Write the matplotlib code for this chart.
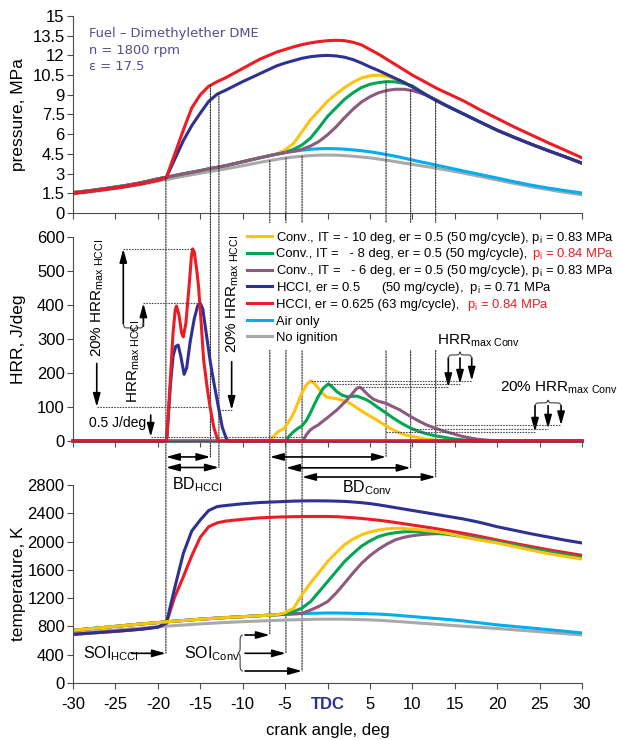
import numpy as np
import matplotlib
matplotlib.use("Agg")
import matplotlib.pyplot as plt
from matplotlib.patches import ConnectionPatch
from matplotlib.lines import Line2D
from matplotlib.offsetbox import AnchoredOffsetbox, DrawingArea, HPacker, VPacker, TextArea

plt.rcParams['font.family'] = ['Liberation Sans', 'DejaVu Sans']
plt.rcParams['mathtext.fontset'] = 'custom'
plt.rcParams['mathtext.rm'] = 'Liberation Sans'
plt.rcParams['mathtext.it'] = 'Liberation Sans:italic'
plt.rcParams['mathtext.bf'] = 'Liberation Sans:bold'

# ---- data ----
angle = [-30, -28, -26, -24, -22, -20, -19, -18, -17, -16, -15, -14, -13, -12,
         -10, -8, -6, -5, -4, -3, -2, -1, 0, 1, 2, 3, 4, 5, 6, 7, 8, 9, 10,
         11, 12, 13, 14, 16, 18, 20, 22, 24, 26, 28, 30]

# pressure, MPa
p_air = [1.55, 1.70, 1.88, 2.07, 2.30, 2.60, 2.72, 2.85, 2.98, 3.10, 3.22, 3.36, 3.48, 3.60,
         3.90, 4.20, 4.48, 4.60, 4.70, 4.78, 4.85, 4.89, 4.90, 4.89, 4.86, 4.80, 4.74, 4.66,
         4.56, 4.44, 4.32, 4.18, 4.03, 3.89, 3.76, 3.62, 3.48, 3.20, 2.93, 2.66, 2.38, 2.12,
         1.90, 1.70, 1.52]
p_noign = [1.45, 1.60, 1.76, 1.95, 2.17, 2.42, 2.55, 2.67, 2.79, 2.91, 3.03, 3.14, 3.25, 3.36,
           3.60, 3.85, 4.08, 4.18, 4.26, 4.32, 4.37, 4.40, 4.41, 4.40, 4.37, 4.32, 4.26, 4.20,
           4.11, 4.01, 3.91, 3.80, 3.70, 3.60, 3.50, 3.39, 3.28, 3.04, 2.78, 2.51, 2.25, 2.00,
           1.78, 1.57, 1.38]
p_hcci05 = [1.50, 1.65, 1.82, 2.00, 2.22, 2.50, 2.70, 4.10, 5.50, 6.65, 7.60, 8.50, 9.05, 9.35,
            10.0, 10.6, 11.2, 11.42, 11.6, 11.78, 11.9, 11.97, 12.0, 11.96, 11.86, 11.68, 11.42,
            11.12, 10.85, 10.55, 10.25, 9.95, 9.60, 9.22, 8.85, 8.50, 8.17, 7.55, 6.92, 6.30,
            5.76, 5.24, 4.75, 4.28, 3.80]
p_hcci0625 = [1.50, 1.65, 1.82, 2.00, 2.22, 2.50, 2.70, 4.50, 6.30, 8.00, 9.00, 9.65, 10.0, 10.3,
              11.0, 11.7, 12.25, 12.45, 12.65, 12.82, 12.95, 13.05, 13.12, 13.15, 13.12, 13.0,
              12.8, 12.45, 12.1, 11.7, 11.3, 10.9, 10.5, 10.15, 9.80, 9.45, 9.15, 8.55, 7.85,
              7.20, 6.55, 5.95, 5.35, 4.78, 4.20]
p_conv10 = p_air[:16] + [4.48, 4.80, 5.30, 6.20, 7.10, 7.80, 8.50, 9.05, 9.55, 9.95, 10.28,
                         10.45, 10.5, 10.4, 10.2, 9.95, 9.62, 9.22, 8.85, 8.50, 8.17,
                         7.55, 6.92, 6.30, 5.76, 5.24, 4.75, 4.28, 3.78]
p_conv8 = p_air[:16] + [4.48, 4.60, 4.85, 5.18, 5.70, 6.50, 7.35, 8.00, 8.65, 9.15, 9.55,
                        9.80, 9.93, 10.0, 9.98, 9.87, 9.68, 9.26, 8.87, 8.50, 8.17,
                        7.55, 6.92, 6.30, 5.76, 5.24, 4.75, 4.28, 3.78]
p_conv6 = p_air[:16] + [4.48, 4.60, 4.70, 4.85, 5.10, 5.45, 5.95, 6.55, 7.25, 7.90, 8.45,
                        8.85, 9.15, 9.33, 9.42, 9.42, 9.32, 9.12, 8.88, 8.55, 8.20,
                        7.55, 6.92, 6.30, 5.76, 5.24, 4.75, 4.28, 3.78]

# temperature, K
t_air = [745, 768, 790, 812, 835, 855, 865, 875, 884, 893, 902, 910, 918, 925,
         938, 952, 965, 972, 978, 982, 985, 988, 990, 990, 988, 986, 983, 979, 975,
         968, 960, 950, 940, 930, 920, 910, 900, 878, 850, 822, 800, 778, 755, 732, 708]
t_noign = [705, 722, 740, 758, 776, 795, 803, 812, 820, 828, 836, 843, 850, 856,
           867, 877, 886, 890, 894, 897, 900, 902, 903, 903, 902, 900, 897, 893, 888,
           880, 872, 864, 855, 846, 838, 829, 820, 803, 787, 771, 752, 735, 716, 698, 680]
t_hcci05 = [688, 705, 722, 740, 760, 790, 845, 1350, 1830, 2150, 2305, 2440, 2495, 2510,
            2535, 2552, 2562, 2567, 2572, 2575, 2576, 2576, 2575, 2572, 2568, 2560, 2550,
            2537, 2520, 2500, 2480, 2460, 2440, 2420, 2400, 2380, 2360, 2320, 2270, 2210,
            2160, 2110, 2065, 2020, 1980]
t_hcci0625 = [688, 705, 722, 740, 760, 790, 845, 1220, 1500, 1800, 2060, 2210, 2265, 2290,
              2315, 2335, 2346, 2350, 2352, 2354, 2355, 2355, 2355, 2352, 2345, 2337, 2327,
              2315, 2302, 2287, 2270, 2252, 2234, 2216, 2198, 2178, 2158, 2118, 2072, 2022,
              1975, 1930, 1885, 1845, 1805]
t_conv10 = t_air[:16] + [965, 995, 1056, 1250, 1414, 1565, 1716, 1840, 1955, 2035, 2095,
                         2135, 2163, 2180, 2188, 2185, 2175, 2165, 2152, 2138, 2120,
                         2065, 2020, 1980, 1930, 1878, 1830, 1790, 1753]
t_conv8 = t_air[:16] + [965, 975, 1009, 1060, 1150, 1290, 1433, 1575, 1716, 1830, 1935,
                        2010, 2070, 2105, 2126, 2138, 2142, 2138, 2128, 2118, 2105,
                        2070, 2030, 1990, 1945, 1900, 1855, 1812, 1768]
t_conv6 = t_air[:16] + [965, 972, 978, 985, 1032, 1085, 1150, 1270, 1410, 1555, 1690,
                        1800, 1890, 1965, 2025, 2060, 2083, 2098, 2107, 2112, 2110,
                        2085, 2045, 2000, 1955, 1905, 1860, 1815, 1770]

# heat release rate, J/deg
hrr_ang_hcci05 = [-30, -19.0, -18.8, -18.5, -18.2, -17.9, -17.6, -17.3, -16.9, -16.6, -16.2,
                  -15.7, -15.3, -15.0, -14.7, -14.2, -13.8, -13.45, -12.87, -12.4, -11.9,
                  -11.6, 30]
hrr_hcci05 = [0, 0, 60, 170, 250, 278, 282, 250, 196, 215, 290, 360, 398, 405, 388, 300, 230,
              179, 101, 40, 5, 0, 0]
hrr_ang_hcci0625 = [-30, -19.0, -18.9, -18.6, -18.2, -17.95, -17.8, -17.5, -17.2, -17.0, -16.7,
                    -16.3, -16.05, -15.9, -15.7, -15.4, -15.2, -14.9, -14.6, -14.2, -13.85,
                    -13.4, -12.9, 30]
hrr_hcci0625 = [0, 0, 15, 150, 320, 385, 397, 370, 318, 306, 345, 460, 540, 565, 555, 500, 454,
                350, 238, 160, 101, 40, 0, 0]
hrr_ang_conv10 = [-30, -6.8, -6.3, -5.8, -5.2, -4.6, -4.0, -3.5, -3.03, -2.5, -1.97, -1.5, -1.1,
                  -0.6, -0.08, 1.1, 2.3, 3.0, 3.84, 4.8, 5.8, 6.9, 7.7, 8.56, 9.5, 10.5, 11.5,
                  12.8, 14, 30]
hrr_conv10 = [0, 0, 15, 28, 35, 55, 81, 112, 140, 165, 177, 168, 156, 140, 129, 124, 116, 105,
              91, 76, 62, 44, 33, 23, 16, 11, 6, 2, 0, 0]
hrr_ang_conv8 = [-30, -4.9, -4.5, -4.0, -3.5, -3.03, -2.5, -2.05, -1.6, -1.1, -0.5, 0.1, 0.6,
                 1.1, 1.7, 2.3, 2.9, 3.45, 4.0, 4.6, 5.2, 5.8, 6.8, 7.77, 8.8, 9.86, 10.8, 11.7,
                 12.7, 13.7, 14.6, 15.6, 17, 18, 30]
hrr_conv8 = [0, 0, 15, 27, 37, 44, 60, 81, 105, 130, 155, 168, 158, 145, 135, 130, 131, 132,
             127, 121, 112, 101, 84, 67, 51, 37, 28, 21, 15, 11, 7, 4, 1, 0, 0]
hrr_ang_conv6 = [-30, -2.9, -2.5, -2.05, -1.6, -1.1, -0.6, -0.08, 0.5, 1.1, 1.7, 2.3, 2.9, 3.45,
                 3.8, 4.1, 4.4, 4.9, 5.4, 6.1, 6.9, 7.7, 8.56, 9.2, 9.86, 10.8, 11.7, 12.77,
                 13.8, 14.85, 15.8, 16.8, 17.7, 19, 20, 30]
hrr_conv6 = [0, 0, 18, 32, 40, 47, 57, 67, 79, 91, 106, 121, 138, 155, 158, 153, 145, 133, 123,
             116, 111, 101, 91, 81, 71, 58, 47, 37, 28, 21, 14, 9, 5, 2, 0, 0]
hrr_ang_motor = [-30, 30]
hrr_motor = [0, 0]

# characteristic points (start of injection / end of burn), deg
soi_hcci = -19.05
eob_hcci = [-13.8, -12.8]           # er 0.625, er 0.5
soi_conv = [-6.8, -4.9, -3.0]       # IT -10, -8, -6
eob_conv = [6.9, 9.8, 12.75]
hrr20_hcci = [100, 91]
hrr20_conv = [27, 36, 46]

c_yel = '#FFC20E'
c_grn = '#00A651'
c_pur = '#8C5A7C'
c_blu = '#2E3192'
c_red = '#ED1C24'
c_cya = '#00AEEF'
c_gry = '#A7A9AC'
LW = 2.2
LEG_FS = 9.4

# legend rows: colour, black part, red part
PI = 'p$_{\\rm i}$'
leg_rows = [
    (c_yel, 'Conv., IT = - 10 deg, er = 0.5 (50 mg/cycle), ' + PI + ' = 0.83 MPa', ''),
    (c_grn, 'Conv., IT =   - 8 deg, er = 0.5 (50 mg/cycle),', PI + ' = 0.84 MPa'),
    (c_pur, 'Conv., IT =   - 6 deg, er = 0.5 (50 mg/cycle), ' + PI + ' = 0.83 MPa', ''),
    (c_blu, 'HCCI, er = 0.5      (50 mg/cycle),  ' + PI + ' = 0.71 MPa', ''),
    (c_red, 'HCCI, er = 0.625 (63 mg/cycle), ', PI + ' = 0.84 MPa'),
    (c_cya, 'Air only', ''),
    (c_gry, 'No ignition', '')]


def brace(ax, a0, a1, base, h, vertical=False):
    # curly brace drawn from a0 to a1, nib at base + h
    t = np.linspace(0, 0.5, 60)
    half = 1 / (1 + np.exp(-40 * t)) + 1 / (1 + np.exp(-40 * (t - 0.5)))
    half = (half - half[0]) / (half[-1] - half[0])
    along = a0 + (a1 - a0) * np.concatenate([t, 0.5 + t[1:]])
    across = base + h * np.concatenate([half, half[::-1][1:]])
    if vertical:
        ax.plot(across, along, color='0.25', lw=0.8, clip_on=False, zorder=6)
    else:
        ax.plot(along, across, color='0.25', lw=0.8, clip_on=False, zorder=6)


def arrow(ax, tail, tip, both=False):
    style = '<|-|>' if both else '-|>'
    ax.annotate('', xy=tip, xytext=tail, annotation_clip=False, zorder=6,
                arrowprops=dict(arrowstyle=style + ',head_length=0.8,head_width=0.22',
                                color='k', lw=1.2, shrinkA=0, shrinkB=0, mutation_scale=10))


def hdots(ax, x0, x1, y):
    ax.plot([x0, x1], [y, y], color='0.3', lw=0.8, ls=(0, (1.5, 1)), zorder=6, clip_on=False)


fig = plt.figure(figsize=(6.17, 7.40), dpi=100)
ax1 = fig.add_axes([0.1183, 0.7122, 0.825, 0.2662])
ax2 = fig.add_axes([0.1183, 0.4041, 0.825, 0.2757])
ax3 = fig.add_axes([0.1183, 0.0770, 0.825, 0.2676])

for ax in (ax1, ax2, ax3):
    ax.set_xlim(-30, 30)
    ax.set_xticks(range(-30, 31, 5))
    ax.spines[['top', 'right']].set_visible(False)
    for s in ('left', 'bottom'):
        ax.spines[s].set_color('0.3')
        ax.spines[s].set_linewidth(0.8)
    ax.tick_params(direction='out', length=4, width=0.8, color='0.3', labelsize=12, pad=2)
    ax.patch.set_visible(False)
ax1.tick_params(axis='x', labelbottom=False)
ax2.tick_params(axis='x', labelbottom=False)
ax3.tick_params(axis='x', pad=6)

# pressure
ax1.plot(angle, p_noign, color=c_gry, lw=LW)
ax1.plot(angle, p_air, color=c_cya, lw=LW)
ax1.plot(angle, p_conv10, color=c_yel, lw=LW)
ax1.plot(angle, p_conv8, color=c_grn, lw=LW)
ax1.plot(angle, p_conv6, color=c_pur, lw=LW)
ax1.plot(angle, p_hcci05, color=c_blu, lw=LW)
ax1.plot(angle, p_hcci0625, color=c_red, lw=LW)
ax1.set_ylim(0, 15)
ax1.set_yticks(np.arange(0, 15.1, 1.5))
ax1.set_yticklabels(['0', '1.5', '3', '4.5', '6', '7.5', '9', '10.5', '12', '13.5', '15'])
ax1.set_ylabel('pressure, MPa', fontsize=12.5)
ax1.yaxis.set_label_coords(-0.092, 0.5)
for i, s in enumerate(['Fuel \u2013 Dimethylether DME', 'n = 1800 rpm', '\u03b5 = 17.5']):
    ax1.text(-28.1, 13.65 - 1.25 * i, s, family='DejaVu Sans', fontsize=9.4,
             color='#524E8E', va='center', ha='left')

# heat release rate
ax2.plot(hrr_ang_motor, hrr_motor, color=c_gry, lw=LW, clip_on=False)
ax2.plot(hrr_ang_motor, hrr_motor, color=c_cya, lw=LW, clip_on=False)
ax2.plot(hrr_ang_conv10, hrr_conv10, color=c_yel, lw=LW, clip_on=False)
ax2.plot(hrr_ang_conv8, hrr_conv8, color=c_grn, lw=LW, clip_on=False)
ax2.plot(hrr_ang_conv6, hrr_conv6, color=c_pur, lw=LW, clip_on=False)
ax2.plot(hrr_ang_hcci05, hrr_hcci05, color=c_blu, lw=LW, clip_on=False)
ax2.plot(hrr_ang_hcci0625, hrr_hcci0625, color=c_red, lw=LW, clip_on=False)
ax2.set_ylim(0, 600)
ax2.set_yticks(range(0, 601, 100))
ax2.set_ylabel('HRR, J/deg', fontsize=12.5)
ax2.yaxis.set_label_coords(-0.092, 0.5)

# legend built from offset boxes so the red parts share the baseline
rows = []
for col, black, red in leg_rows:
    da = DrawingArea(18, 11.6, 0, 3.1)
    da.add_artist(Line2D([0, 18], [3.3, 3.3], color=col, lw=LW))
    parts = [da, TextArea(black, textprops=dict(fontsize=LEG_FS, color='k'))]
    if red:
        parts.append(TextArea(red, textprops=dict(fontsize=LEG_FS, color=c_red)))
    rows.append(HPacker(children=parts, align='baseline', pad=0, sep=3))
leg_box = VPacker(children=rows, align='left', pad=0, sep=0)
leg = AnchoredOffsetbox(loc='upper left', child=leg_box, pad=0.4, borderpad=0,
                        frameon=True, bbox_to_anchor=(0.392, 0.698),
                        bbox_transform=fig.transFigure, prop=dict(size=LEG_FS))
leg.patch.set_facecolor('white')
leg.patch.set_edgecolor('none')
leg.patch.set_boxstyle('square', pad=0)
leg.set_zorder(5)
ax2.add_artist(leg)

# temperature
ax3.plot(angle, t_noign, color=c_gry, lw=LW)
ax3.plot(angle, t_air, color=c_cya, lw=LW)
ax3.plot(angle, t_hcci0625, color=c_red, lw=LW)
ax3.plot(angle, t_hcci05, color=c_blu, lw=LW)
ax3.plot(angle, t_conv6, color=c_pur, lw=LW)
ax3.plot(angle, t_conv8, color=c_grn, lw=LW)
ax3.plot(angle, t_conv10, color=c_yel, lw=LW)
ax3.set_ylim(0, 2800)
ax3.set_yticks(range(0, 2801, 400))
ax3.set_ylabel('temperature, K', fontsize=12.5)
ax3.yaxis.set_label_coords(-0.092, 0.5)
ax3.set_xticklabels(['-30', '-25', '-20', '-15', '-10', '-5', 'TDC', '5', '10', '15',
                     '20', '25', '30'])
tdc = ax3.get_xticklabels()[6]
tdc.set_color(c_blu)
tdc.set_fontweight('bold')
ax3.set_xlabel('crank angle, deg', fontsize=12)
ax3.xaxis.set_label_coords(0.5, -0.2)


# vertical guide lines through the three panels
def vline(x, yA, axA, yB, axB):
    con = ConnectionPatch(xyA=(x, yA), coordsA=axA.transData, xyB=(x, yB),
                          coordsB=axB.transData, color='0.15', lw=0.8,
                          linestyle=(0, (1.2, 1.2)), zorder=1, annotation_clip=False,
                          clip_on=False)
    ax2.add_artist(con)


vline(soi_hcci, np.interp(soi_hcci, angle, p_hcci05), ax1, 420, ax3)
vline(eob_hcci[0], np.interp(eob_hcci[0], angle, p_hcci0625), ax1, -47, ax2)
vline(eob_hcci[1], np.interp(eob_hcci[1], angle, p_hcci05), ax1, -78, ax2)
for x, tb in zip(soi_conv, [679, 420, 170]):
    vline(x, np.interp(x, angle, p_noign), ax1, tb, ax3)
for x, curve, hb in zip(eob_conv, [p_conv8, p_conv6, p_conv6], [-47, -79, -106]):
    vline(x, np.interp(x, angle, curve), ax1, hb, ax2)

# HRR panel annotations - HCCI
hdots(ax2, -24.07, hrr_ang_hcci0625[np.argmax(hrr_hcci0625)], max(hrr_hcci0625))
hdots(ax2, -21.7, hrr_ang_hcci05[np.argmax(hrr_hcci05)], max(hrr_hcci05))
hdots(ax2, -27.2, eob_hcci[0], hrr20_hcci[0])
hdots(ax2, eob_hcci[1], -11.3, hrr20_hcci[1])
hdots(ax2, -20.84, -3.0, 12)
arrow(ax2, (-24.07, 345), (-24.07, max(hrr_hcci0625)))
arrow(ax2, (-21.7, 338), (-21.7, max(hrr_hcci05)))
brace(ax2, -24.07, -21.7, 345, -25)
arrow(ax2, (-27.2, 228), (-27.2, hrr20_hcci[0]))
arrow(ax2, (-11.3, 233), (-11.3, hrr20_hcci[1]))
arrow(ax2, (-20.84, 76), (-20.84, 12))
ax2.text(-28.1, 53, '0.5 J/deg', fontsize=10, ha='left', va='center', zorder=6)
ax2.text(-28.0, 248, '20% HRR$_{\\rm max\\ HCCI}$', rotation=90, fontsize=11,
         ha='left', va='bottom', zorder=6)
ax2.text(-12.08, 259, '20% HRR$_{\\rm max\\ HCCI}$', rotation=90, fontsize=11,
         ha='left', va='bottom', zorder=6)
ax2.text(-23.8, 111, 'HRR$_{\\rm max\\ HCCI}$', rotation=90, fontsize=11,
         ha='left', va='bottom', zorder=6)

# HRR panel annotations - conventional
conv_series = [(hrr_ang_conv10, hrr_conv10), (hrr_ang_conv8, hrr_conv8),
               (hrr_ang_conv6, hrr_conv6)]
for (xa, ya), xarr in zip(conv_series, [17.0, 15.62, 14.24]):
    hdots(ax2, xa[np.argmax(ya)], xarr, max(ya))
    arrow(ax2, (xarr, 244), (xarr, max(ya)))
brace(ax2, 14.24, 17.0, 244, 18)
ax2.text(12.9, 294, 'HRR$_{\\rm max\\ Conv}$', fontsize=11, ha='left', va='center', zorder=7)
for xe, lvl, xarr in zip(eob_conv, hrr20_conv, [24.46, 26.0, 27.53]):
    hdots(ax2, xe, xarr, lvl)
    arrow(ax2, (xarr, 104), (xarr, lvl))
brace(ax2, 24.46, 27.53, 104, 16)
ax2.text(20.3, 155, '20% HRR$_{\\rm max\\ Conv}$', fontsize=11, ha='left', va='center',
         zorder=7)

# burn duration arrows (below HRR axis)
arrow(ax2, (soi_hcci, -47), (eob_hcci[0], -47), both=True)
arrow(ax2, (soi_hcci, -78), (eob_hcci[1], -78), both=True)
for x0, x1, yy in zip(soi_conv, eob_conv, [-47, -79, -106]):
    arrow(ax2, (x0, yy), (x1, yy), both=True)
ax2.text(-18.3, -129, 'BD$_{\\rm HCCI}$', fontsize=11.5, ha='left', va='center', zorder=6)
ax2.text(1.7, -138, 'BD$_{\\rm Conv}$', fontsize=11.5, ha='left', va='center', zorder=6)

# temperature panel annotations
ax3.text(-28.8, 420, 'SOI$_{\\rm HCCI}$', fontsize=11.5, ha='left', va='center')
arrow(ax3, (-23.1, 420), (soi_hcci, 420))
ax3.text(-16.9, 420, 'SOI$_{\\rm Conv}$', fontsize=11.5, ha='left', va='center')
brace(ax3, 170, 679, -10.05, -0.5, vertical=True)
for x, tb in zip(soi_conv, [679, 420, 170]):
    arrow(ax3, (-9.72, tb), (x, tb))

fig.savefig('out.png', dpi=100)
